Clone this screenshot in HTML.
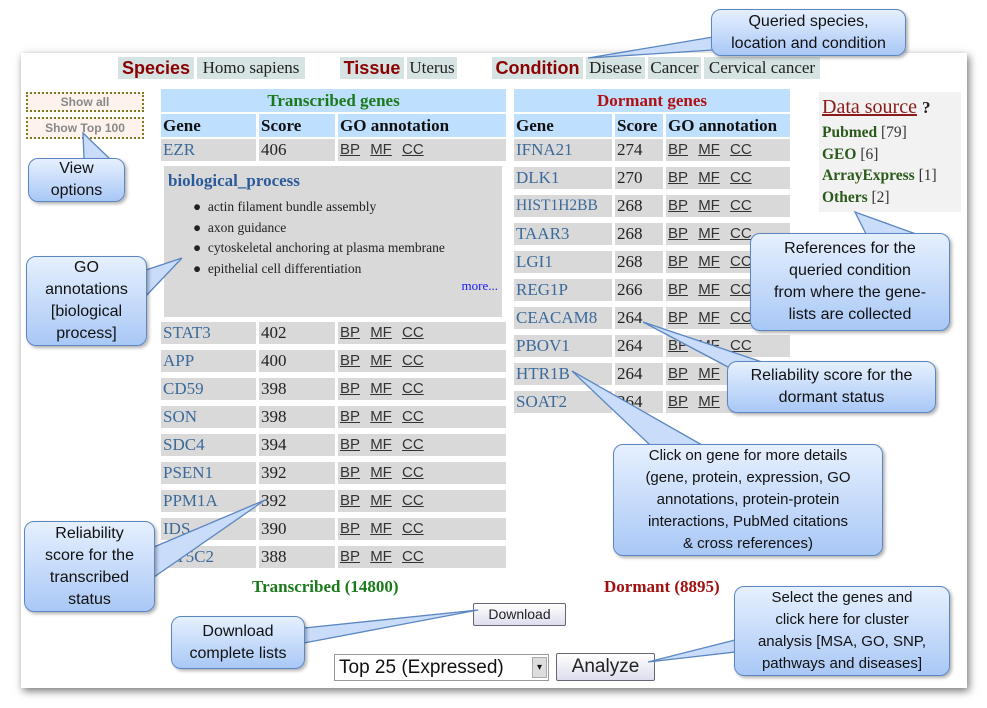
<!DOCTYPE html>
<html><head><meta charset="utf-8"><style>
*{margin:0;padding:0;box-sizing:border-box}
body{width:987px;height:708px;background:#fff;position:relative;overflow:hidden;font-family:"Liberation Serif",serif}
.a{position:absolute}
.frame{left:21px;top:53px;width:946px;height:635px;background:#fff;box-shadow:2px 3px 8px rgba(0,0,0,.55)}
.lab{font-family:"Liberation Sans",sans-serif;font-weight:bold;color:#8b0000;font-size:18px;background:#d6e3e3;height:22px;line-height:22px;text-align:center}
.val{font-size:17px;color:#222;background:#d6e3e3;height:22px;line-height:22px;text-align:center;white-space:nowrap}
.c{background:#d9d9d9;height:22px;line-height:22px;font-size:17px;padding-left:2px;color:#222;white-space:nowrap;overflow:hidden}
.g{color:#3b6a9a}
.h{background:#bfdfff;height:23px;line-height:23px;font-size:17px;font-weight:bold;padding-left:2px;color:#111;white-space:nowrap;overflow:hidden}
.go{font-family:"Liberation Sans",sans-serif;font-size:15px;color:#333}
.go u{margin-right:6px}
.box{border:1.5px solid #5b86c2;border-radius:10px;background:linear-gradient(#e6f0fe,#a9c8f6);font-family:"Liberation Sans",sans-serif;font-size:16px;color:#111;text-align:center;display:flex;align-items:center;justify-content:center;line-height:22px;box-shadow:2px 2px 3px rgba(0,0,0,.3)}
.btn{font-family:"Liberation Sans",sans-serif;border:1px solid #667;border-radius:2px;background:linear-gradient(#fff,#dde);text-align:center;color:#222}
</style></head><body>
<div class="a frame"></div>

<div class="a lab" style="left:118px;top:57px;width:76px">Species</div>
<div class="a val" style="left:197px;top:57px;width:108px">Homo sapiens</div>
<div class="a lab" style="left:340px;top:57px;width:64px">Tissue</div>
<div class="a val" style="left:407px;top:57px;width:50px">Uterus</div>
<div class="a lab" style="left:492px;top:57px;width:91px">Condition</div>
<div class="a val" style="left:586px;top:57px;width:59px">Disease</div>
<div class="a val" style="left:648px;top:57px;width:53px">Cancer</div>
<div class="a val" style="left:704px;top:57px;width:116px">Cervical cancer</div>

<div class="a" style="left:26px;top:92px;width:118px;height:20px;border:2px dotted #7a7a20;background:#fdf3ec;font-family:'Liberation Sans',sans-serif;font-size:12px;font-weight:bold;color:#888;text-align:center;line-height:16px">Show all</div>
<div class="a" style="left:26px;top:117px;width:118px;height:22px;border:2px dotted #7a7a20;background:#fdf3ec;font-family:'Liberation Sans',sans-serif;font-size:12px;font-weight:bold;color:#888;text-align:center;line-height:18px">Show Top 100</div>

<div class="a h" style="left:161px;top:89px;width:345px;text-align:center;color:#1a7a1a;padding:0">Transcribed genes</div>
<div class="a h" style="left:161px;top:114px;width:95px">Gene</div>
<div class="a h" style="left:259px;top:114px;width:76px">Score</div>
<div class="a h" style="left:338px;top:114px;width:168px">GO annotation</div>
<div class="a c g" style="left:161px;top:139px;width:95px">EZR</div>
<div class="a c" style="left:259px;top:139px;width:76px">406</div>
<div class="a c go" style="left:338px;top:139px;width:168px"><u>BP</u> <u>MF</u> <u>CC</u></div>
<div class="a" style="left:164px;top:166px;width:338px;height:151px;background:#d9d9d9">
 <div style="position:absolute;left:4px;top:5px;font-size:17px;font-weight:bold;color:#2a5a9a">biological_process</div>
 <div style="position:absolute;left:29px;top:31px;font-size:13.5px;line-height:20.5px;color:#222">● &nbsp;actin filament bundle assembly<br>● &nbsp;axon guidance<br>● &nbsp;cytoskeletal anchoring at plasma membrane<br>● &nbsp;epithelial cell differentiation</div>
 <div style="position:absolute;right:4px;top:112px;font-size:13px;color:#1a1aff">more...</div>
</div>

<div class="a c g" style="left:161px;top:322px;width:95px">STAT3</div><div class="a c" style="left:259px;top:322px;width:76px">402</div><div class="a c go" style="left:338px;top:322px;width:168px"><u>BP</u> <u>MF</u> <u>CC</u></div>
<div class="a c g" style="left:161px;top:350px;width:95px">APP</div><div class="a c" style="left:259px;top:350px;width:76px">400</div><div class="a c go" style="left:338px;top:350px;width:168px"><u>BP</u> <u>MF</u> <u>CC</u></div>
<div class="a c g" style="left:161px;top:378px;width:95px">CD59</div><div class="a c" style="left:259px;top:378px;width:76px">398</div><div class="a c go" style="left:338px;top:378px;width:168px"><u>BP</u> <u>MF</u> <u>CC</u></div>
<div class="a c g" style="left:161px;top:406px;width:95px">SON</div><div class="a c" style="left:259px;top:406px;width:76px">398</div><div class="a c go" style="left:338px;top:406px;width:168px"><u>BP</u> <u>MF</u> <u>CC</u></div>
<div class="a c g" style="left:161px;top:434px;width:95px">SDC4</div><div class="a c" style="left:259px;top:434px;width:76px">394</div><div class="a c go" style="left:338px;top:434px;width:168px"><u>BP</u> <u>MF</u> <u>CC</u></div>
<div class="a c g" style="left:161px;top:462px;width:95px">PSEN1</div><div class="a c" style="left:259px;top:462px;width:76px">392</div><div class="a c go" style="left:338px;top:462px;width:168px"><u>BP</u> <u>MF</u> <u>CC</u></div>
<div class="a c g" style="left:161px;top:490px;width:95px">PPM1A</div><div class="a c" style="left:259px;top:490px;width:76px">392</div><div class="a c go" style="left:338px;top:490px;width:168px"><u>BP</u> <u>MF</u> <u>CC</u></div>
<div class="a c g" style="left:161px;top:518px;width:95px">IDS</div><div class="a c" style="left:259px;top:518px;width:76px">390</div><div class="a c go" style="left:338px;top:518px;width:168px"><u>BP</u> <u>MF</u> <u>CC</u></div>
<div class="a c g" style="left:161px;top:546px;width:95px">NT5C2</div><div class="a c" style="left:259px;top:546px;width:76px">388</div><div class="a c go" style="left:338px;top:546px;width:168px"><u>BP</u> <u>MF</u> <u>CC</u></div>

<div class="a h" style="left:514px;top:89px;width:276px;text-align:center;color:#b01010;padding:0">Dormant genes</div>
<div class="a h" style="left:514px;top:114px;width:98px">Gene</div>
<div class="a h" style="left:615px;top:114px;width:48px">Score</div>
<div class="a h" style="left:666px;top:114px;width:124px">GO annotation</div>
<div class="a c g" style="left:514px;top:139px;width:98px">IFNA21</div><div class="a c" style="left:615px;top:139px;width:48px">274</div><div class="a c go" style="left:666px;top:139px;width:124px"><u>BP</u> <u>MF</u> <u>CC</u></div>
<div class="a c g" style="left:514px;top:167px;width:98px">DLK1</div><div class="a c" style="left:615px;top:167px;width:48px">270</div><div class="a c go" style="left:666px;top:167px;width:124px"><u>BP</u> <u>MF</u> <u>CC</u></div>
<div class="a c g" style="left:514px;top:195px;width:98px;font-size:15.5px">HIST1H2BB</div><div class="a c" style="left:615px;top:195px;width:48px">268</div><div class="a c go" style="left:666px;top:195px;width:124px"><u>BP</u> <u>MF</u> <u>CC</u></div>
<div class="a c g" style="left:514px;top:223px;width:98px">TAAR3</div><div class="a c" style="left:615px;top:223px;width:48px">268</div><div class="a c go" style="left:666px;top:223px;width:124px"><u>BP</u> <u>MF</u> <u>CC</u></div>
<div class="a c g" style="left:514px;top:251px;width:98px">LGI1</div><div class="a c" style="left:615px;top:251px;width:48px">268</div><div class="a c go" style="left:666px;top:251px;width:124px"><u>BP</u> <u>MF</u> <u>CC</u></div>
<div class="a c g" style="left:514px;top:279px;width:98px">REG1P</div><div class="a c" style="left:615px;top:279px;width:48px">266</div><div class="a c go" style="left:666px;top:279px;width:124px"><u>BP</u> <u>MF</u> <u>CC</u></div>
<div class="a c g" style="left:514px;top:307px;width:98px">CEACAM8</div><div class="a c" style="left:615px;top:307px;width:48px">264</div><div class="a c go" style="left:666px;top:307px;width:124px"><u>BP</u> <u>MF</u> <u>CC</u></div>
<div class="a c g" style="left:514px;top:335px;width:98px">PBOV1</div><div class="a c" style="left:615px;top:335px;width:48px">264</div><div class="a c go" style="left:666px;top:335px;width:124px"><u>BP</u> <u>MF</u> <u>CC</u></div>
<div class="a c g" style="left:514px;top:363px;width:98px">HTR1B</div><div class="a c" style="left:615px;top:363px;width:48px">264</div><div class="a c go" style="left:666px;top:363px;width:124px"><u>BP</u> <u>MF</u> <u>CC</u></div>
<div class="a c g" style="left:514px;top:391px;width:98px">SOAT2</div><div class="a c" style="left:615px;top:391px;width:48px">264</div><div class="a c go" style="left:666px;top:391px;width:124px"><u>BP</u> <u>MF</u> <u>CC</u></div>

<div class="a" style="left:819px;top:92px;width:142px;height:120px;background:#f2f2f2;padding:4px 0 0 3px">
 <div style="font-size:20px;color:#8b1a1a;"><u>Data source</u> <b style="color:#222;font-size:17px">?</b></div>
 <div style="font-size:15.5px;line-height:21.5px;margin-top:3px;color:#333;white-space:nowrap"><b style="color:#2a5a1a">Pubmed</b> [79]<br><b style="color:#2a5a1a">GEO</b> [6]<br><b style="color:#2a5a1a">ArrayExpress</b> [1]<br><b style="color:#2a5a1a">Others</b> [2]</div>
</div>

<div class="a" style="left:252px;top:577px;font-size:17px;font-weight:bold;color:#1a7a1a">Transcribed (14800)</div>
<div class="a" style="left:604px;top:577px;font-size:17px;font-weight:bold;color:#a01010">Dormant (8895)</div>
<div class="a btn" style="left:473px;top:603px;width:93px;height:23px;line-height:21px;font-size:14px">Download</div>
<div class="a" style="left:334px;top:654px;width:215px;height:27px;border:1px solid #999;background:#fff;font-family:'Liberation Sans',sans-serif;font-size:19px;line-height:25px;padding-left:4px;color:#111">Top 25 (Expressed)<span style="position:absolute;right:1px;top:2px;width:15px;height:21px;background:#ddd;border:1px solid #aaa;font-size:10px;line-height:19px;text-align:center">▾</span></div>
<div class="a btn" style="left:556px;top:653px;width:99px;height:28px;line-height:26px;font-size:19px">Analyze</div>

<svg class="a" style="left:0;top:0" width="987" height="708">
<g fill="#c9dcfa" stroke="#5b86c2" stroke-width="1.3">
<polygon points="713,37 588,58 713,50"/>
<polygon points="84,159 83,133 110,159"/>
<polygon points="146,270 182,258 146,296"/>
<polygon points="866,234 855,212 916,234"/>
<polygon points="728,367 643,322 762,362"/>
<polygon points="650,445 572,371 702,445"/>
<polygon points="154,547 265,500 154,577"/>
<polygon points="304,628 478,610 304,643"/>
<polygon points="735,640 648,662 735,652"/>
</g></svg>

<div class="a box" style="left:711px;top:9px;width:195px;height:47px">Queried species,<br>location and condition</div>
<div class="a box" style="left:28px;top:158px;width:97px;height:44px">View<br>options</div>
<div class="a box" style="left:26px;top:256px;width:121px;height:90px">GO<br>annotations<br>[biological<br>process]</div>
<div class="a box" style="left:750px;top:233px;width:200px;height:98px">References for the<br>queried condition<br>from where the gene-<br>lists are collected</div>
<div class="a box" style="left:727px;top:361px;width:209px;height:52px">Reliability score for the<br>dormant status</div>
<div class="a box" style="left:613px;top:444px;width:270px;height:112px;font-size:15px">Click on gene for more details<br>(gene, protein, expression, GO<br>annotations, protein-protein<br>interactions, PubMed citations<br>&amp; cross references)</div>
<div class="a box" style="left:24px;top:521px;width:131px;height:91px">Reliability<br>score for the<br>transcribed<br>status</div>
<div class="a box" style="left:171px;top:616px;width:134px;height:53px">Download<br>complete lists</div>
<div class="a box" style="left:734px;top:586px;width:216px;height:90px;font-size:15px">Select the genes and<br>click here for cluster<br>analysis [MSA, GO, SNP,<br>pathways and diseases]</div>
</body></html>
